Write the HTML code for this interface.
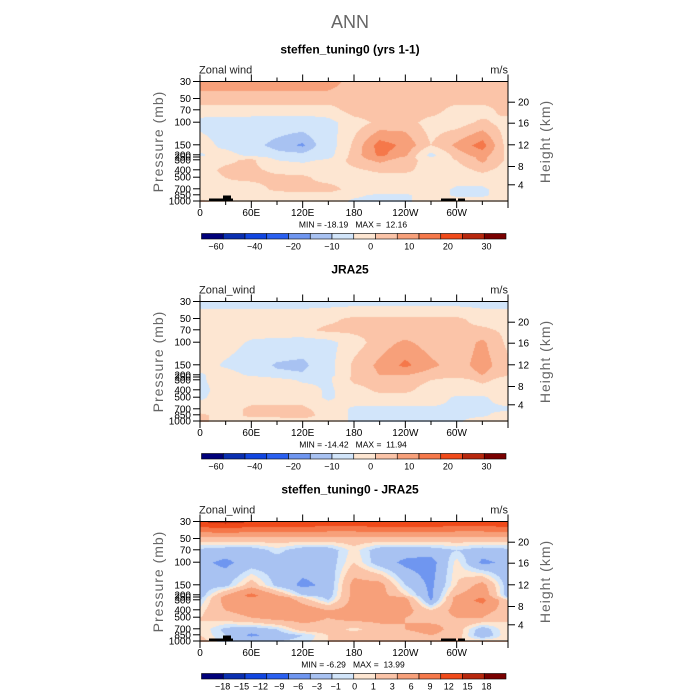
<!DOCTYPE html>
<html><head><meta charset="utf-8">
<style>
html,body{margin:0;padding:0;background:#fff;}
body{width:700px;height:700px;position:relative;overflow:hidden;font-family:"Liberation Sans",sans-serif;}
svg{position:absolute;left:0;top:0;}
canvas{position:absolute;}
text{white-space:pre;}
</style></head>
<body>
<canvas id="c0" width="308" height="120" style="left:200px;top:82px"></canvas>
<canvas id="c1" width="308" height="120" style="left:200px;top:302px"></canvas>
<canvas id="c2" width="308" height="120" style="left:200px;top:522px"></canvas>
<svg id="ov" width="700" height="700"></svg>
<script>
// ---- data ----
const lons = [0,30,60,90,120,150,180,210,240,270,300,330,360];
const levels = [30,50,70,100,150,200,250,300,400,500,700,850,1000];
const model = [
[9,9,9,9,9,9,5,5,5,5,5,5,5],
[5,5,5,5,5,5,5,5,5,5,5,5,5],
[1,1,1,1,1,1,5,5,5,5,1,1,5],
[-4,-5,-5,-6,-6,-4,1,4,5,1,1,4,1],
[1,-4,-8,-12,-16,-5,4,13,10,3,8,13,1],
[-3,1,-4,-8,-8,-4,5,12,8,-4,5,9,2],
[-1,1,2,-4,-5,-3,5,10,6,-2,4,8,2],
[1,2,4,-2,-3,-1,5,8,5,1,3,8,2],
[1,4,4,2,1,1,2,4,4,1,1,4,1],
[1,3,4,4,4,1,1,1,1,1,1,1,1],
[1,2,1,4,4,5,1,1,1,1,-3,-3,1],
[1,1,1,1,2,1,-1,-3,-3,1,-3,-3,1],
[4,1,1,1,1,1,-3,-4,-3,1,1,1,1]];
const jra = [
[-4,-4,-4,-4,-4,-4,-4,-4,-4,-4,-4,-4,-4],
[1,1,1,1,1,2,4,4,4,4,4,1,1],
[1,1,1,1,2,4,4,4,4,4,4,4,2],
[1,1,-3,-4,-5,-4,1,5,8,5,4,8,2],
[1,-3,-6,-11,-12,-4,4,8,12,8,5,9,4],
[-3,1,-3,-8,-9,-4,4,7,7,5,4,7,3],
[-3,1,1,-3,-4,-3,4,5,5,4,3,5,2],
[-3,1,1,1,-3,-3,4,5,5,3,1,4,1],
[-4,1,1,1,1,-3,1,4,4,1,1,1,1],
[-3,1,1,1,1,-3,1,1,1,1,-3,-3,1],
[1,1,4,4,4,1,-3,-3,-3,-3,-3,-3,-3],
[4,1,4,4,5,1,-3,-3,-3,-3,-3,-3,1],
[4,1,1,1,1,1,-3,-3,-3,-3,-3,1,1]];
const diff = [
[12,13,12,12,12,11,11,12,12,12,11,11,12],
[2,2,2,2,2,2,2,2,2,2,2,2,2],
[-1.5,-2,-2,-0.5,-2,-2,0.5,-2,-2,-2,-1,-2,-1.5],
[-2.5,-3.5,-2,-2,-2,-2,1,-2,-3.5,-4,0.5,-3.5,-2.5],
[-2,-1.5,2,-1.5,-3.5,-2.5,4,4,-1,-3.5,1,4,-2],
[-2,3,7,3,-1,-2,4,4,1,-3.5,3,5,-2],
[-1.5,4,6,5,1,-1.5,4,5,3,-3.5,4,6,-1],
[-1,4,6,6,2,-1,4,5,4,-3,4,7,1],
[0.5,3,4,5,5,3,4,4,4,1,4,4,2],
[1,2,3,4,4,3,4,4,3,2,3,3,1],
[1,-1.5,-2,-1,2,2,0.5,2,3,4,2,-2,1],
[1,-1,-3.5,-2,-1,1,2,2,2,3,2,-2.5,1],
[2,-1,-1,-1,-0.5,1,1,1,1,1,1,1,1]];
const bounds12 = [-50,-40,-30,-20,-15,-10,-2,3,7,11,20,25,30];
const bounds3 = [-15,-12,-9,-6,-3,-1,0,1,3,6,9,12,15];
const cbLabels12 = ["\u221260","\u221240","\u221220","\u221210","0","10","20","30"];
const cbLabels3 = ["\u221218","\u221215","\u221212","\u22129","\u22126","\u22123","\u22121","0","1","3","6","9","12","15","18"];
const minmax = [["-18.19","12.16"],["-14.42","11.94"],["-6.29","13.99"]];
const titles = ["steffen_tuning0 (yrs 1-1)","JRA25","steffen_tuning0 - JRA25"];
const palette = ["#00007a","#0a2fb0","#1146e0","#2a60f0","#6f96f0","#a8c2f2","#d2e5fa","#fde6d2","#fbc4a8","#f7a07a","#f5784a","#f04a1a","#b8280e","#7a0000"];
// ---- axes ----
const W=308,H=119.5,X0=200;
const pTicks=[[30,0],[50,17],[70,28.3],[100,40.7],[150,63.3],[200,73.3],[250,75.5],[300,78.3],[400,88.3],[500,95.7],[700,107.3],[850,113.3],[1000,119.5]];
function yOfP(p){for(let i=0;i<pTicks.length-1;i++){const a=pTicks[i],b=pTicks[i+1];if(p<=b[0]){const t=(Math.log(p)-Math.log(a[0]))/(Math.log(b[0])-Math.log(a[0]));return a[1]+t*(b[1]-a[1]);}}return H;}
function xOfLon(l){return l/360*W;}
function hex(c){return [parseInt(c.substr(1,2),16),parseInt(c.substr(3,2),16),parseInt(c.substr(5,2),16)];}
function draw(id,grid,b){
  const cv=document.getElementById(id),ctx=cv.getContext('2d');
  const img=ctx.createImageData(308,120);
  const ly=levels.map(yOfP), lx=lons.map(xOfLon);
  const cols=palette.map(hex);
  for(let py=0;py<120;py++){
    const y=py+0.5;let j=0;while(j<ly.length-2&&y>ly[j+1])j++;
    let ty=(y-ly[j])/(ly[j+1]-ly[j]);ty=Math.max(0,Math.min(1,ty));
    for(let px=0;px<308;px++){
      const x=px+0.5;let i=0;while(i<lx.length-2&&x>lx[i+1])i++;
      const tx=(x-lx[i])/(lx[i+1]-lx[i]);
      const v=(grid[j][i]*(1-tx)+grid[j][i+1]*tx)*(1-ty)+(grid[j+1][i]*(1-tx)+grid[j+1][i+1]*tx)*ty;
      let k=0;while(k<b.length&&v>=b[k])k++;
      const c=cols[k],o=(py*308+px)*4;
      img.data[o]=c[0];img.data[o+1]=c[1];img.data[o+2]=c[2];img.data[o+3]=255;
    }
  }
  ctx.putImageData(img,0,0);
}
draw('c0',model,bounds12);draw('c1',jra,bounds12);draw('c2',diff,bounds3);
const NS='http://www.w3.org/2000/svg',ov=document.getElementById('ov');
function el(tag,attrs,txt){const e=document.createElementNS(NS,tag);for(const k in attrs)e.setAttribute(k,attrs[k]);if(txt!==undefined)e.textContent=txt;ov.appendChild(e);return e;}
let t=el('text',{x:350,y:28,'text-anchor':'middle','font-size':18,fill:'#666'},'ANN');


const xlab=["0","60E","120E","180","120W","60W"];
const hTicks=[[20,20.7],[16,41.7],[12,63.3],[8,85],[4,103.3]];
for(let p=0;p<3;p++){
  const T=82+220*p-0.5;
  t=el('text',{x:350,y:T-28,'text-anchor':'middle','font-size':12,'font-weight':'bold',fill:'#000'},titles[p]);
  
  
  t=el('text',{x:199,y:T-8,'font-size':11,fill:'#222'},'Zonal'+(p==0?' ':'_')+'wind');
  
  
  t=el('text',{x:508,y:T-8,'text-anchor':'end','font-size':11,fill:'#222'},'m/s');
  
  
  let r=el('rect',{x:X0,y:T,width:W,height:H,fill:'none',stroke:'#000','stroke-width':1});
  
  
  if(p!=1){
    [[209,T+117,24,3],[223,T+114,8,3],[441,T+117,15,3],[458,T+117,7,3]].forEach(a=>{
      const k=el('rect',{x:a[0],y:a[1],width:a[2],height:a[3],fill:'#000'});
      
      
    });
  }
  pTicks.forEach(pt=>{
    const y=T+yOfP(pt[0]);
    el('line',{x1:X0-7,x2:X0,y1:y,y2:y,stroke:'#000','stroke-width':1});
    const l=el('text',{x:X0-9,y:y+3.5,'text-anchor':'end','font-size':10,fill:'#000'},String(pt[0]));
    
    
  });
  hTicks.forEach(h=>{
    const y=T+h[1];
    el('line',{x1:X0+W,x2:X0+W+7,y1:y,y2:y,stroke:'#000','stroke-width':1});
    const l=el('text',{x:X0+W+10,y:y+3.5,'font-size':10,fill:'#000'},String(h[0]));
    
    
  });
  for(let i=0;i<=12;i++){
    const x=X0+xOfLon(i*30);
    el('line',{x1:x,x2:x,y1:T+H,y2:T+H+(i%2?4:7),stroke:'#000','stroke-width':1});
    el('line',{x1:x,x2:x,y1:T,y2:T-(i%2?4:7),stroke:'#000','stroke-width':1});
    if(i%2==0&&i<12){const l=el('text',{x:x,y:T+H+15,'text-anchor':'middle','font-size':10,fill:'#000'},xlab[i/2]);
      
      }
  }
  t=el('text',{x:0,y:0,'text-anchor':'middle','font-size':14,fill:'#666',transform:`translate(163,${T+60}) rotate(-90)`,'letter-spacing':'1'},'Pressure (mb)');
  
  
  t=el('text',{x:0,y:0,'text-anchor':'middle','font-size':14,fill:'#666',transform:`translate(550,${T+60}) rotate(-90)`,'letter-spacing':'1'},'Height (km)');
  
  
  t=el('text',{x:353,y:T+146,'text-anchor':'middle','font-size':8.5,fill:'#000'},'MIN = '+minmax[p][0]+'   MAX =  '+minmax[p][1]);
  
  
  const cy=T+152,cw=(506-201.5)/14;
  for(let k=0;k<14;k++){
    const b=el('rect',{x:201.5+k*cw,y:cy,width:cw,height:5.5,fill:palette[k],stroke:'#000','stroke-width':0.6});
    
    
  }
  const labs=p==2?cbLabels3:cbLabels12;
  const lx0=p==2?222.7:216, lx1=486.5;
  labs.forEach((s,k)=>{
    const l=el('text',{x:lx0+k*(lx1-lx0)/(labs.length-1),y:cy+16,'text-anchor':'middle','font-size':9,fill:'#000'},s);
    
    
  });
}
</script>
</body></html>
